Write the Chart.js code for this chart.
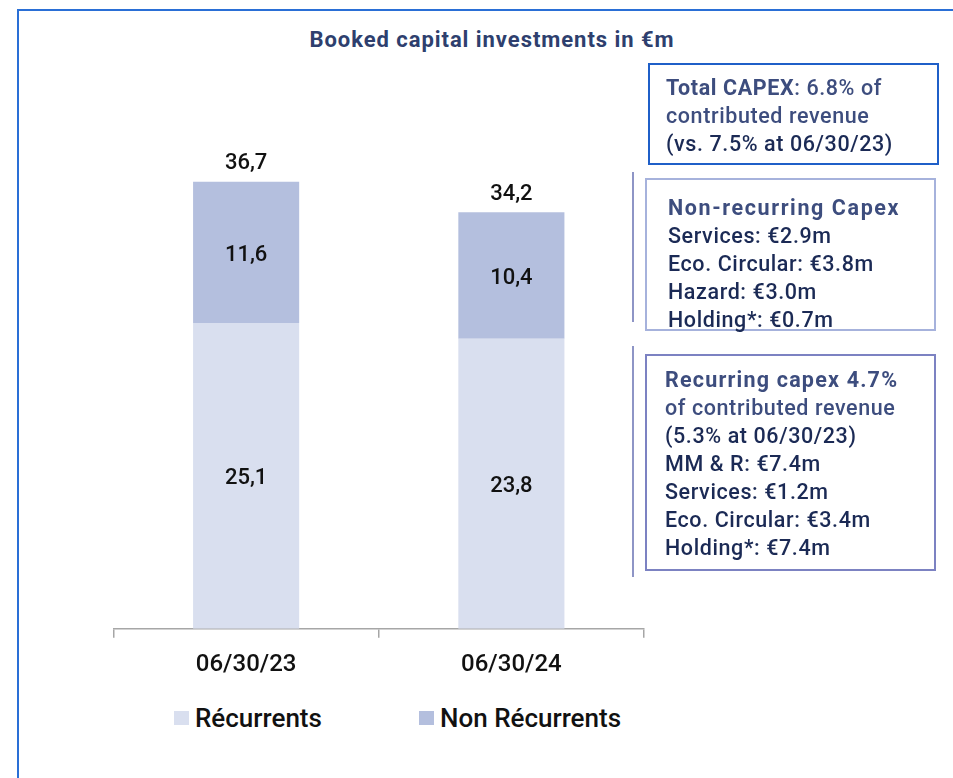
<!DOCTYPE html>
<html>
<head>
<meta charset="utf-8">
<script src="https://cdn.jsdelivr.net/npm/chart.js@4.4.0/dist/chart.umd.min.js"></script>
<style>
  body { margin: 0; width: 953px; height: 778px; background: #fff; overflow: hidden; position: relative; font-family: Roboto, "DejaVu Sans", sans-serif; }
  #frame { position: absolute; left: 17px; top: 9px; width: 960px; height: 800px; border-top: 2px solid #2A6FD6; border-left: 2px solid #2A6FD6; }
  #title { position: absolute; left: 242px; top: 27px; width: 500px; text-align: center; font-size: 22px; letter-spacing: 0.95px; font-weight: bold; color: #2E3F6E; }
  #chart { position: absolute; left: 100px; top: 60px; }
  .box { position: absolute; box-sizing: border-box; font-size: 21.5px; font-weight: 500; line-height: 28px; letter-spacing: 0.6px; color: #1B2A55; white-space: nowrap; }
  .slate { color: #3D4D7E; }
  .head { letter-spacing: 1.2px; }
  #box1 { left: 648px; top: 63px; width: 291px; height: 102px; border: 2px solid #1F5FC8; padding: 9px 0 0 16px; }
  #box2 { left: 645px; top: 178px; width: 291px; height: 153px; border: 2px solid #A6B2DC; padding: 14px 0 0 21px; }
  #box3 { left: 645px; top: 354px; width: 291px; height: 217px; border: 2px solid #7C82C2; padding: 10px 0 0 18px; }
  .vline { position: absolute; left: 632px; width: 2px; background: #8E95C6; }
  #legend { position: absolute; top: 703px; left: 0; font-size: 26px; font-weight: 500; color: #111; }
  .li { position: absolute; white-space: nowrap; }
  .sw { position: absolute; top: 8px; width: 15px; height: 14px; }
</style>
</head>
<body>
<div id="frame"></div>
<div id="title">Booked capital investments in €m</div>
<canvas id="chart" width="560" height="634"></canvas>

<div id="box1" class="box">
  <div class="slate"><b>Total CAPEX</b>: 6.8% of</div>
  <div class="slate">contributed revenue</div>
  <div>(vs. 7.5% at 06/30/23)</div>
</div>
<div class="vline" style="top:172px;height:150px"></div>
<div id="box2" class="box">
  <div class="slate head" style="letter-spacing:1.6px"><b>Non-recurring Capex</b></div>
  <div>Services: €2.9m</div>
  <div>Eco. Circular: €3.8m</div>
  <div>Hazard: €3.0m</div>
  <div>Holding*: €0.7m</div>
</div>
<div class="vline" style="top:346px;height:231px"></div>
<div id="box3" class="box">
  <div class="slate head"><b>Recurring capex 4.7%</b></div>
  <div class="slate">of contributed revenue</div>
  <div>(5.3% at 06/30/23)</div>
  <div>MM &amp; R: €7.4m</div>
  <div>Services: €1.2m</div>
  <div>Eco. Circular: €3.4m</div>
  <div>Holding*: €7.4m</div>
</div>
<div id="legend"></div>

<script>
// data
var categories = ['06/30/23', '06/30/24'];
var recurring = [25.1, 23.8];
var nonRecurring = [11.6, 10.4];
var totals = [36.7, 34.2];
var seriesNames = ['Récurrents', 'Non Récurrents'];
var seriesColors = ['#D9DFEF', '#B4BFDE'];

function fmt(v) { return v.toFixed(1).replace('.', ','); }

// legend (html so the spacing can match)
var legendPos = [174, 419];
var legend = document.getElementById('legend');
seriesNames.forEach(function (name, i) {
  var item = document.createElement('div');
  item.className = 'li';
  item.style.left = legendPos[i] + 'px';
  item.innerHTML = '<span class="sw" style="left:0;background:' + seriesColors[i] + '"></span>' +
    '<span style="margin-left:21px">' + name + '</span>';
  legend.appendChild(item);
});

// draws the values inside the bars and the totals on top
var valueLabels = {
  id: 'valueLabels',
  afterDatasetsDraw: function (chart) {
    var ctx = chart.ctx;
    ctx.save();
    ctx.font = '500 22px Roboto';
    ctx.fillStyle = '#111';
    ctx.textAlign = 'center';
    ctx.textBaseline = 'middle';
    chart.data.datasets.forEach(function (ds, di) {
      chart.getDatasetMeta(di).data.forEach(function (bar, i) {
        ctx.fillText(fmt(ds.data[i]), bar.x, (bar.y + bar.base) / 2 + 3);
      });
    });
    var top = chart.getDatasetMeta(chart.data.datasets.length - 1).data;
    top.forEach(function (bar, i) {
      ctx.fillText(fmt(totals[i]), bar.x, bar.y - 18);
    });
    ctx.restore();
  }
};

var ctx = document.getElementById('chart').getContext('2d');
new Chart(ctx, {
  type: 'bar',
  data: {
    labels: categories,
    datasets: [
      { label: seriesNames[0], data: recurring, backgroundColor: seriesColors[0] },
      { label: seriesNames[1], data: nonRecurring, backgroundColor: seriesColors[1] }
    ]
  },
  options: {
    responsive: false,
    animation: false,
    layout: { padding: { left: 13.5, right: 16, top: 20.6, bottom: 1.4 } },
    categoryPercentage: 1,
    barPercentage: 0.4,
    plugins: { legend: { display: false }, tooltip: { enabled: false } },
    scales: {
      x: {
        stacked: true,
        border: { color: '#A6A6A6', width: 1.5 },
        grid: { drawOnChartArea: false, drawTicks: true, tickLength: 9, color: '#A6A6A6', lineWidth: 1.5 },
        ticks: { color: '#111', padding: 13, font: { family: 'Roboto', size: 24, weight: 500 } }
      },
      y: { stacked: true, display: false, min: 0, max: 45 }
    }
  },
  plugins: [valueLabels]
});
</script>
</body>
</html>
